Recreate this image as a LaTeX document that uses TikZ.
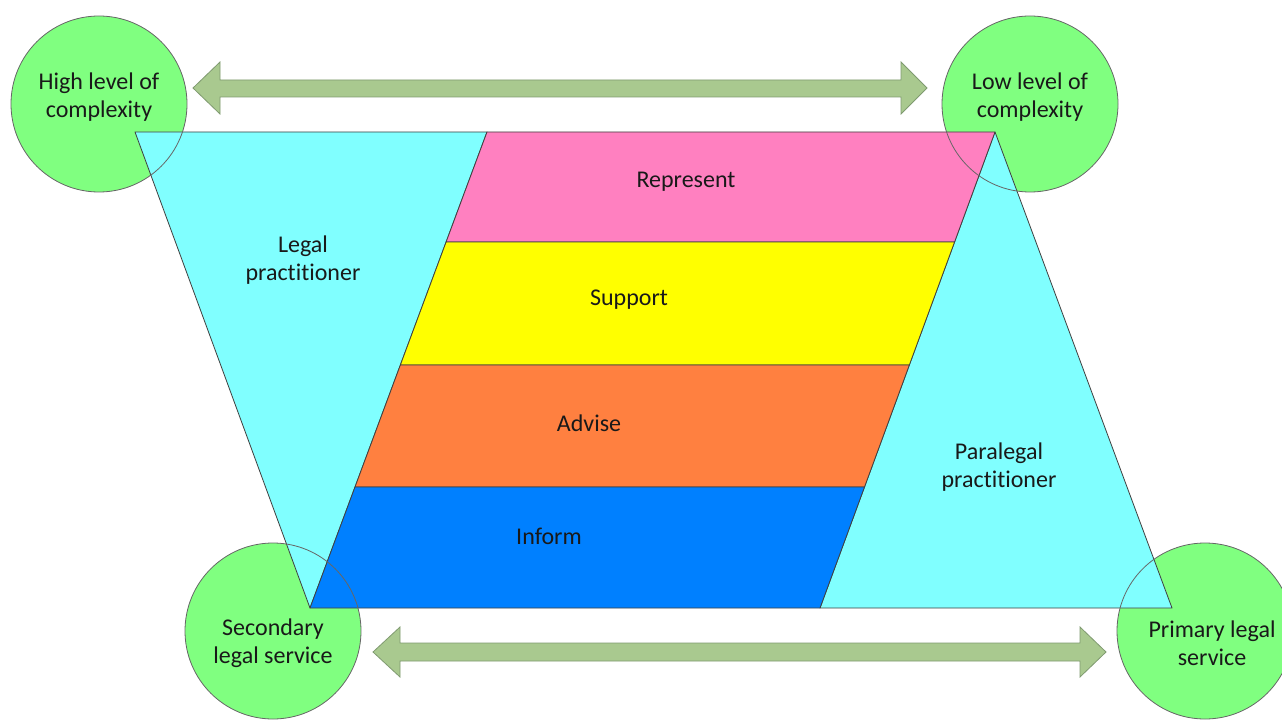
\documentclass[tikz,border=0pt]{standalone}
\usetikzlibrary{calc}
\usepackage{fontspec}
\setmainfont{Carlito}[Ligatures={NoCommon}]
\begin{document}
\begin{tikzpicture}[x=1pt,y=-1pt,
  lbl/.style={font=\fontsize{24}{28}\selectfont, text=black!90, align=center, inner sep=0pt},
  band/.style={draw=black!75, line width=0.8pt, line join=round},
  bubble/.style={circle, minimum size=176pt, inner sep=0pt, fill=circgreen},
  bubbleline/.style={draw=black!60, line width=0.8pt},
  bigarrow/.style={fill=arrowgreen, draw=arrowedge, line width=0.8pt}]
\definecolor{circgreen}{HTML}{80FF80}
\definecolor{cyanfill}{HTML}{80FFFF}
\definecolor{pinkfill}{HTML}{FF80C0}
\definecolor{yellowfill}{HTML}{FFFF00}
\definecolor{orangefill}{HTML}{FF8040}
\definecolor{bluefill}{HTML}{0080FF}
\definecolor{arrowgreen}{HTML}{A9C98F}
\definecolor{arrowedge}{HTML}{7F9A70}
\useasboundingbox (0,0) rectangle (1282,722);
\fill[white] (0,0) rectangle (1282,722);

% key corners
\coordinate (TL) at (135,132);
\coordinate (L1) at (487,132);
\coordinate (L2) at (310,608);
\coordinate (R1) at (995,132);
\coordinate (R2) at (820,608);
\coordinate (BR) at (1172,608);
\coordinate (La) at ($(L1)!0.2311!(L2)$);
\coordinate (Lb) at ($(L1)!0.4895!(L2)$);
\coordinate (Lc) at ($(L1)!0.7458!(L2)$);
\coordinate (Ra) at ($(R1)!0.2311!(R2)$);
\coordinate (Rb) at ($(R1)!0.4895!(R2)$);
\coordinate (Rc) at ($(R1)!0.7458!(R2)$);

% circles (background)
\node[bubble] (hi) at (99,104) {};
\node[bubble] (lo) at (1030,104) {};
\node[bubble] (sec) at (273,631) {};
\node[bubble] (pri) at (1205,631) {};

% arrows
\draw[bigarrow] (193,88) -- (220,62) -- (220,80) -- (901,80) -- (901,62) -- (927,88)
  -- (901,114) -- (901,97) -- (220,97) -- (220,114) -- cycle;
\draw[bigarrow] (373,652) -- (400,627) -- (400,643) -- (1080,643) -- (1080,627) -- (1106,652)
  -- (1080,677) -- (1080,661) -- (400,661) -- (400,677) -- cycle;

% shapes
\draw[band, fill=cyanfill] (TL) -- (L1) -- (L2) -- cycle;
\draw[band, fill=cyanfill] (R1) -- (BR) -- (R2) -- cycle;
\draw[band, fill=pinkfill] (L1) -- (R1) -- (Ra) -- (La) -- cycle;
\draw[band, fill=yellowfill] (La) -- (Ra) -- (Rb) -- (Lb) -- cycle;
\draw[band, fill=orangefill] (Lb) -- (Rb) -- (Rc) -- (Lc) -- cycle;
\draw[band, fill=bluefill] (Lc) -- (Rc) -- (R2) -- (L2) -- cycle;

% circle outlines on top
\draw[bubbleline] (hi) circle (88);
\draw[bubbleline] (lo) circle (88);
\draw[bubbleline] (sec) circle (88);
\draw[bubbleline] (pri) circle (88);

% labels
\node[lbl] (thi) at (99,97) {High level of\\complexity};
\node[lbl] (tlo) at (1030,97) {Low level of\\complexity};
\node[lbl] (tsec) at (273,643) {Secondary\\legal service};
\node[lbl] (tpri) at (1212,643) {Primary legal\\service};
\node[lbl] (tlegal) at (303,260) {Legal\\practitioner};
\node[lbl] (tpara) at (999,467) {Paralegal\\practitioner};
\node[lbl] (trep) at (686,182) {Represent};
\node[lbl] (tsup) at (629,300) {Support};
\node[lbl] (tadv) at (589,423) {Advise};
\node[lbl] (tinf) at (549,536) {Inform};
\end{tikzpicture}
\end{document}
